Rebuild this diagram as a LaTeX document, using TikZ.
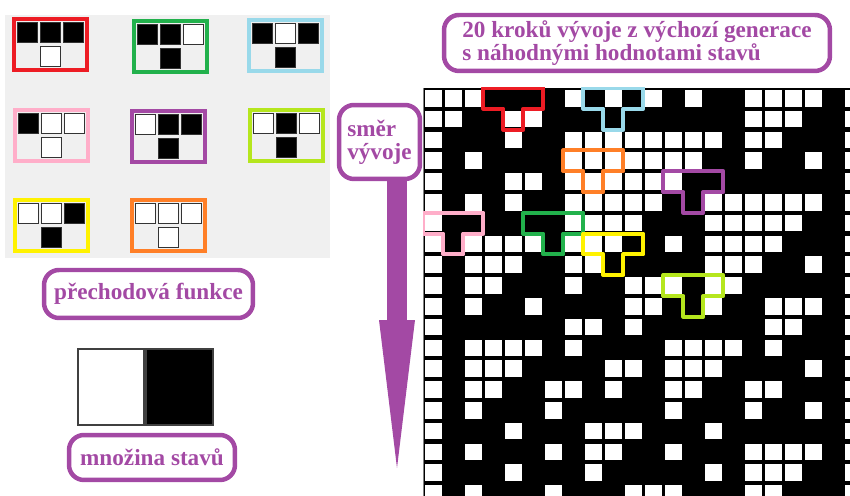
\documentclass[tikz,border=0pt]{standalone}
\usepackage{fontspec}
\setmainfont{Liberation Serif}
\usetikzlibrary{arrows.meta,positioning}
\definecolor{Plum}{HTML}{A349A4}
\definecolor{Panel}{HTML}{F0F0F0}
\definecolor{RuleRed}{HTML}{ED1C24}
\definecolor{RuleGreen}{HTML}{22B14C}
\definecolor{RuleSky}{HTML}{99D9EA}
\definecolor{RulePink}{HTML}{FFAEC9}
\definecolor{RulePurple}{HTML}{A349A4}
\definecolor{RuleLime}{HTML}{B5E61D}
\definecolor{RuleYellow}{HTML}{FFF200}
\definecolor{RuleOrange}{HTML}{FF7F27}
\definecolor{cell0}{HTML}{FFFFFF}
\definecolor{cell1}{HTML}{000000}

\begin{document}
\begin{tikzpicture}[x=0.02cm,y=-0.02cm,
  tag/.style={draw=Plum,line width=0.09cm,rounded corners=0.3cm,text=Plum,
    font=\fontsize{13.2}{13.2}\selectfont\bfseries,align=left,inner sep=0pt},
  rulebox/.style={draw=#1,line width=0.08cm},
  cell/.style={draw=black!80,line width=0.03cm,minimum width=0.4cm,minimum height=0.4cm,inner sep=0pt},
  tee/.style={draw=#1,line width=0.08cm,line join=round},
  state/.style={draw=black!75,line width=0.04cm,minimum width=1.34cm,minimum height=1.52cm,inner sep=0pt},
  flow/.style={draw=Plum,line width=0.4cm,-{Triangle[length=2.96cm,width=0.72cm,line width=0pt]}}
]
\useasboundingbox (0,0) rectangle (850,496);

% rule table
\fill[Panel] (5,15) rectangle (330,258);
\foreach \n/\col/\x/\y/\a/\b/\c/\o in {1/RuleRed/14/19/1/1/1/0,2/RuleGreen/134/21/1/1/0/1,
    3/RuleSky/249/20/1/0/1/1,4/RulePink/15/110/1/0/0/0,5/RulePurple/132/111/0/1/1/1,
    6/RuleLime/250/110/0/1/0/1,7/RuleYellow/15/200/0/0/1/1,8/RuleOrange/132/200/0/0/0/0}{
  \draw[rulebox=\col] (\x,\y) rectangle ++(73,51);
  \node[cell,fill=cell\a] (rule\n-a) at ({\x+13.5},{\y+13.5}) {};
  \node[cell,fill=cell\b] (rule\n-b) at ({\x+36.5},{\y+13.5}) {};
  \node[cell,fill=cell\c] (rule\n-c) at ({\x+59.5},{\y+13.5}) {};
  \node[cell,fill=cell\o] (rule\n-o) at ({\x+36.5},{\y+37.5}) {};
}
\node[tag,minimum width=4.18cm,minimum height=0.96cm] (rule) at (148.5,294) {přechodová funkce};

% states
\node[state,fill=white] (stWhite) at (111,387) {};
\node[state,fill=black,right=0pt of stWhite] (stBlack) {};
\node[tag,minimum width=3.32cm,minimum height=0.9cm] (states) at (152,457.5) {množina stavů};

% direction
\node[tag,minimum width=1.62cm,minimum height=1.48cm] (dir) at (379.5,142) {směr\\vývoje};
\coordinate (tip) at (397,468);
\draw[flow] (dir.south -| tip) -- (tip);

\node[tag,minimum width=7.72cm,minimum height=1.12cm] (steps) at (637,43)
  {20 kroků vývoje z výchozí generace\\s náhodnými hodnotami stavů};

% evolution, rule 110
\begin{scope}
\clip (423,88) rectangle (850,496);
\fill[black] (423,88) rectangle (850,496);
\draw[black!50,line width=0.03cm] (423,88) -- (423,496);
\begin{scope}[shift={(423.35,87.95)},xscale=20,yscale=20.8]
\foreach \row [count=\gy from 0] in {
  {0,0,0,1,1,1,1,0,1,0,1,0,1,0,1,1,0,0,0,0,1,0},
  {0,0,1,1,0,0,1,1,1,1,1,1,1,1,1,1,0,0,0,1,1,0},
  {0,1,1,1,0,1,1,0,0,0,0,0,0,0,0,1,0,0,1,1,1,0},
  {0,1,0,1,1,1,1,0,0,0,0,0,0,0,1,1,0,1,1,0,1,0},
  {0,1,1,1,0,0,1,0,0,0,0,0,0,1,1,1,1,1,1,1,1,0},
  {0,1,0,1,0,1,1,0,0,0,0,0,1,1,0,0,0,0,0,0,1,0},
  {0,1,1,1,1,1,1,0,0,0,0,1,1,1,0,0,0,0,0,1,1,0},
  {0,1,0,0,0,0,1,0,0,0,1,1,0,1,0,0,0,0,1,1,1,0},
  {0,1,0,0,0,1,1,0,0,1,1,1,1,1,0,0,0,1,1,0,1,0},
  {0,1,0,0,1,1,1,0,1,1,0,0,0,1,0,0,1,1,1,1,1,0},
  {0,1,0,1,1,0,1,1,1,1,0,0,1,1,0,1,1,0,0,0,1,0},
  {0,1,1,1,1,1,1,0,0,1,0,1,1,1,1,1,1,0,0,1,1,0},
  {0,1,0,0,0,0,1,0,1,1,1,1,0,0,0,0,1,0,1,1,1,0},
  {0,1,0,0,0,1,1,1,1,0,0,1,0,0,0,1,1,1,1,0,1,0},
  {0,1,0,0,1,1,0,0,1,0,1,1,0,0,1,1,0,0,1,1,1,0},
  {0,1,0,1,1,1,0,1,1,1,1,1,0,1,1,1,0,1,1,0,1,0},
  {0,1,1,1,0,1,1,1,0,0,0,1,1,1,0,1,1,1,1,1,1,0},
  {0,1,0,1,1,1,0,1,0,0,1,1,0,1,1,1,0,0,0,0,1,0},
  {0,1,1,1,0,1,1,1,0,1,1,1,1,1,0,1,0,0,0,1,1,0},
  {0,1,0,1,1,1,0,1,1,1,0,0,0,1,1,1,0,0,1,1,1,0}}{
  \foreach \v [count=\gx from 0] in \row {
    \ifnum\v=0 \fill[white] ({\gx+0.08},{\gy+0.1}) rectangle ({\gx+0.92},{\gy+0.9}); \fi
  }
}
% marked neighbourhoods
\foreach \col/\c/\r in {RuleRed/3/0,RuleSky/8/0,RuleOrange/7/3,RulePurple/12/4,
    RulePink/0/6,RuleGreen/5/6,RuleYellow/8/7,RuleLime/12/9}{
  \draw[tee=\col] (\c,\r) -- ++(3,0) -- ++(0,1) -- ++(-1,0) -- ++(0,1) -- ++(-1,0)
    -- ++(0,-1) -- ++(-1,0) -- cycle;
}
\end{scope}
\end{scope}
\end{tikzpicture}
\end{document}
